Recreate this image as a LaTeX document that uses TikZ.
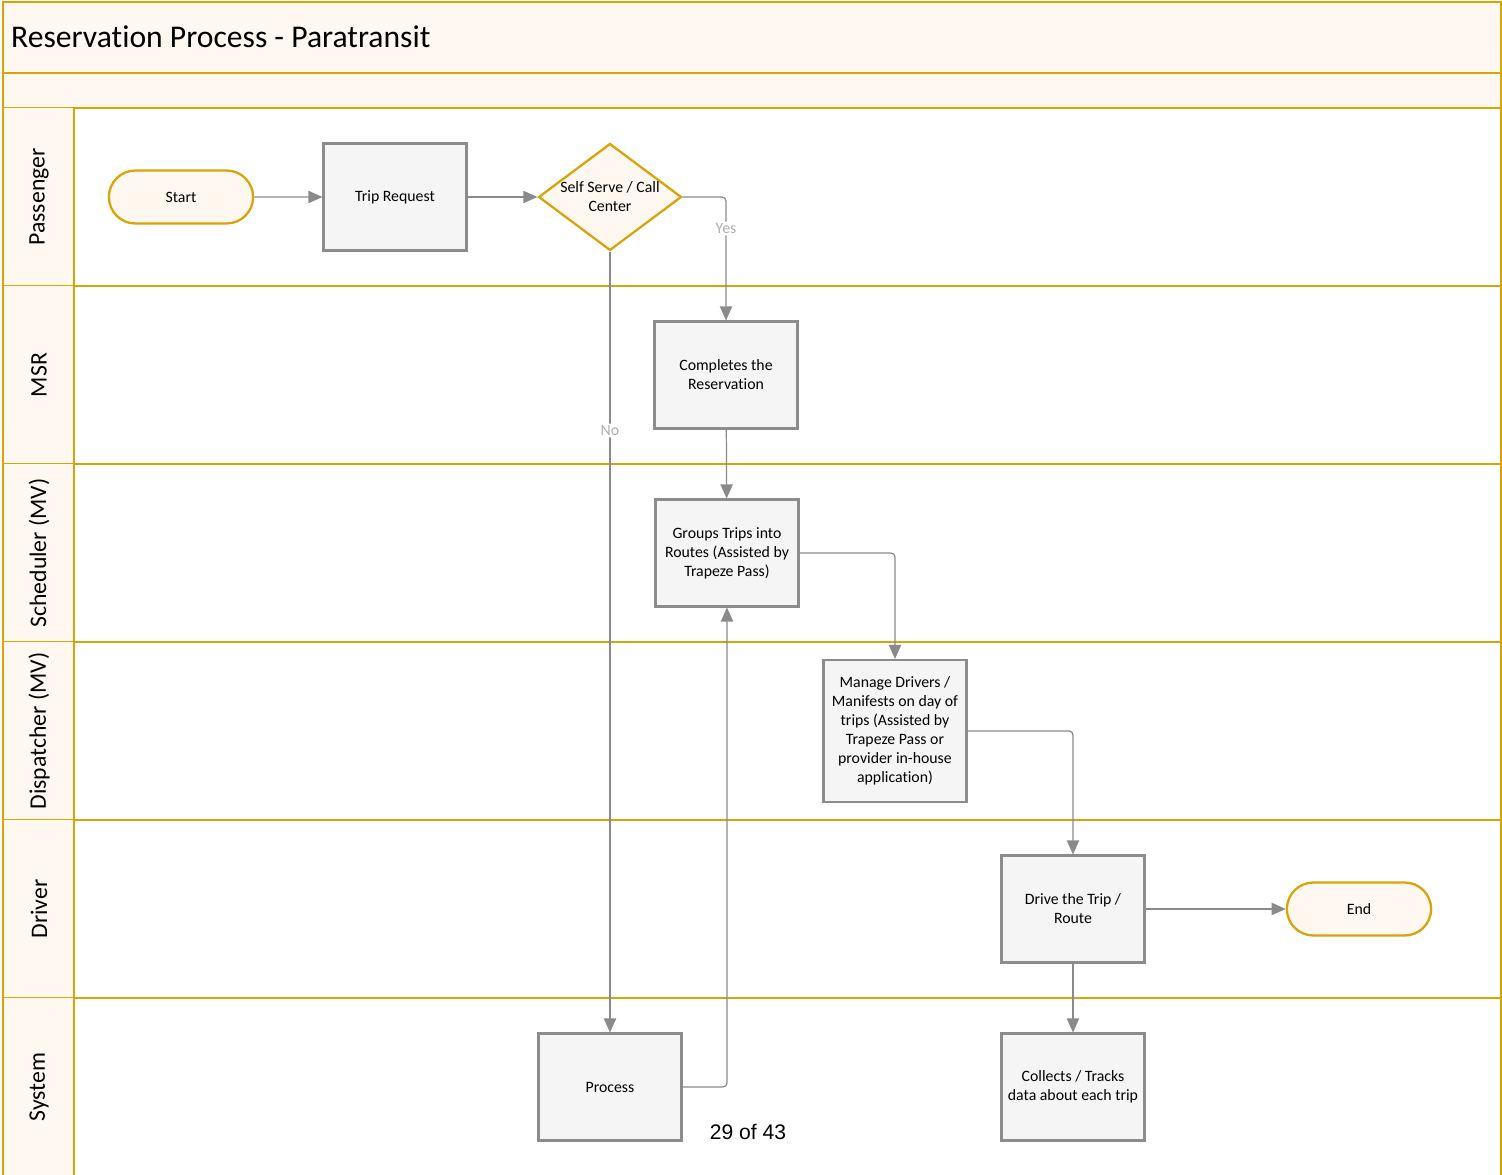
\documentclass[tikz,border=0pt]{standalone}
\usepackage{fontspec}
\setmainfont{Carlito}[Ligatures=NoCommon]
\newfontfamily\pagefont{Liberation Sans}
\usetikzlibrary{arrows.meta,shapes.geometric,shapes.misc,positioning}
\definecolor{lanegold}{HTML}{D9A30A}
\definecolor{lanefill}{HTML}{FFF8F0}
\definecolor{boxgray}{HTML}{8C8C8C}
\definecolor{boxfill}{HTML}{F5F5F5}
\definecolor{flowgray}{HTML}{8A8A8A}
\definecolor{labelgray}{HTML}{AFAFAF}

\begin{document}
\begin{tikzpicture}[x=0.02cm,y=-0.02cm,
    lane/.style={draw=lanegold, line width=1.3pt},
    process/.style={rectangle, draw=boxgray, fill=boxfill, line width=1.2pt,
        minimum width=2.86cm, minimum height=2.14cm, align=center,
        font=\fontsize{9}{10.8}\selectfont},
    terminal/.style={rounded rectangle, draw=lanegold, fill=lanefill, line width=1.3pt,
        minimum width=3.12cm, minimum height=1.06cm,
        font=\fontsize{9}{10.8}\selectfont},
    decision/.style={diamond, draw=lanegold, fill=lanefill, line width=1.3pt,
        inner sep=0pt, minimum width=2.86cm, minimum height=2.14cm},
    flow/.style={draw=flowgray, line width=0.7pt, rounded corners=0.08cm,
        -{Triangle[length=8pt,width=7pt]}},
    branch/.style={fill=white, text=labelgray, inner sep=1pt,
        font=\fontsize{9}{10}\selectfont}]
    \useasboundingbox (0,0) rectangle (1502,1175);
    %%header
    \fill[lanefill] (3,2) rectangle (1501,108);
    \draw[lane] (3,73) -- (1501,73);
    \draw[lane] (3,108) -- (1501,108);
    \node[anchor=west, font=\fontsize{18}{21}\selectfont] (title) at (5,37) {Reservation Process - Paratransit};
    %%swimlanes
    \foreach \lanename [count=\i from 0] in {Passenger,MSR,Scheduler (MV),Dispatcher (MV),Driver,System}{
        \pgfmathsetmacro{\ytop}{108+178*\i}
        \fill[lanefill] (3,\ytop) rectangle (74,\ytop+178);
        \draw[lane] (3,\ytop+178) -- (1501,\ytop+178);
        \node[rotate=90, font=\fontsize{13.5}{16}\selectfont] (lane\i) at (39,\ytop+89) {\lanename};
    }
    \draw[lane] (74,108) -- (74,1176);
    \draw[lane] (3,2) rectangle (1501,1176);
    %%shapes
    \node[terminal] (start) at (181,197) {Start};
    \node[process] (trip) at (395,197) {Trip Request};
    \node[decision] (sel) at (610,197) {};
    \node[align=center, font=\fontsize{9}{10.8}\selectfont] (selt) at (sel.center) {Self Serve / Call\\Center};
    \node[process] (comp) at (726,375) {Completes the\\Reservation};
    \node[process] (grp) at (727,553) {Groups Trips into\\Routes (Assisted by\\Trapeze Pass)};
    \node[process, minimum height=2.84cm] (mng) at (895,731) {Manage Drivers /\\Manifests on day of\\trips (Assisted by\\Trapeze Pass or\\provider in-house\\application)};
    \node[process] (drv) at (1073,909) {Drive the Trip /\\Route};
    \node[terminal] (end) at (1359,909) {End};
    \node[process] (proc) at (610,1087) {Process};
    \node[process] (coll) at (1073,1087) {Collects / Tracks\\data about each trip};
    %%connectors
    \draw[flow] (start) -- (trip);
    \draw[flow] (trip) -- (sel);
    \draw[flow] (sel.east) -| node[branch, pos=0.628] (yes) {Yes} (comp.north);
    \draw[flow] (sel.south) -- node[branch, pos=0.229] (no) {No} (proc.north);
    \draw[flow] (comp) -- (grp);
    \draw[flow] (proc.east) -| (grp.south);
    \draw[flow] (grp.east) -| (mng.north);
    \draw[flow] (mng.east) -| (drv.north);
    \draw[flow] (drv) -- (end);
    \draw[flow] (drv) -- (coll);
    %%page number
    \node[font=\pagefont\fontsize{12}{14}\selectfont] (page) at (748,1132) {29 of 43};
\end{tikzpicture}
\end{document}
